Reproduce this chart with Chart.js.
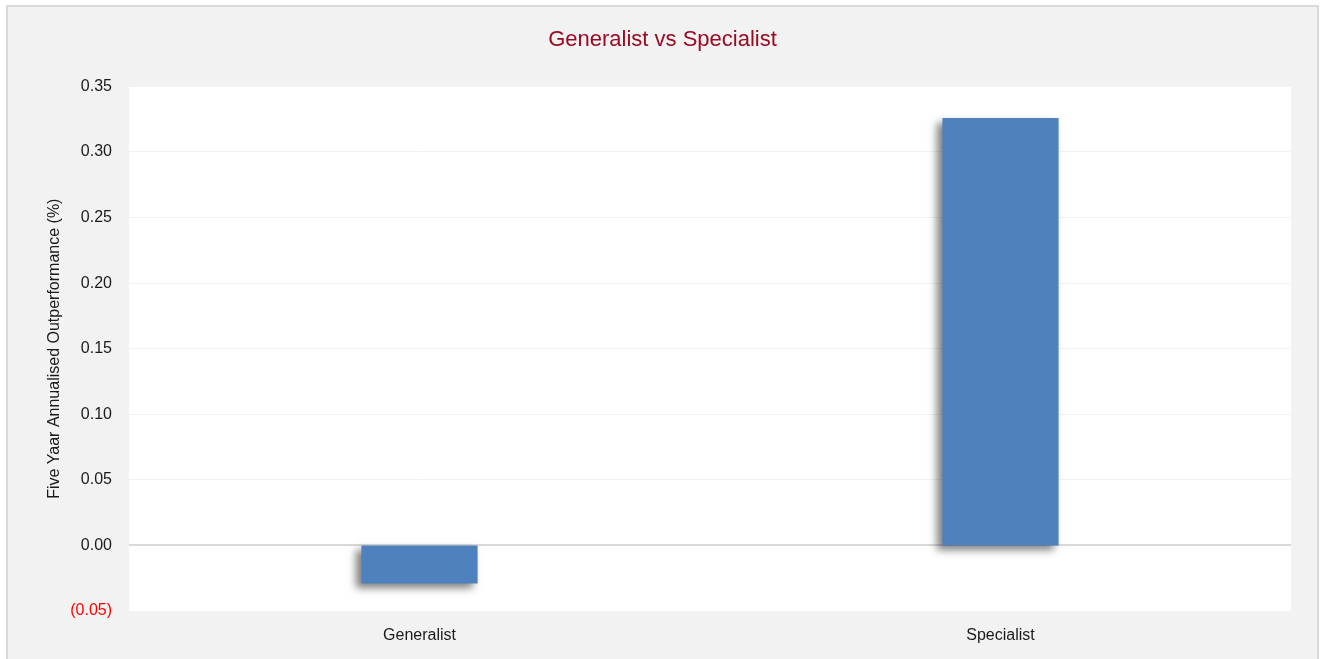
<!DOCTYPE html>
<html>
<head>
<meta charset="utf-8">
<script src="https://cdn.jsdelivr.net/npm/chart.js@4"></script>
<style>
  html, body { margin: 0; padding: 0; background: #fff; }
  #wrap { width: 1325px; height: 659px; }
</style>
</head>
<body>
<div id="wrap"><canvas id="chartjs" width="1325" height="659"></canvas></div>
<script>
const categories = ["Generalist", "Specialist"],
    outperformance = [-0.029, 0.326];

const yMin = -0.05,
    yMax = 0.35,
    yStep = 0.05;

const ctx = document.getElementById("chartjs").getContext("2d");

// grey panel + white plot area behind everything
const panel = {
    id: 'panel',
    beforeDraw(chart) {
        const c = chart.ctx, a = chart.chartArea;
        c.save();
        c.fillStyle = '#ffffff';
        c.fillRect(0, 0, chart.width, chart.height);
        c.fillStyle = '#f2f2f2';
        c.fillRect(8, 7, 1309, 660);
        c.strokeStyle = '#d9d9d9';
        c.lineWidth = 2;
        c.strokeRect(7, 6, 1311, 670);
        c.fillStyle = '#ffffff';
        c.fillRect(a.left, a.top, a.right - a.left, a.bottom - a.top);
        c.restore();
    }
};

// soft drop shadow under the bars, down and to the left
const barShadow = {
    id: 'barShadow',
    beforeDatasetDraw(chart) {
        const c = chart.ctx;
        c.save();
        c.shadowColor = 'rgba(0, 0, 0, 0.5)';
        c.shadowBlur = 8;
        c.shadowOffsetX = -5;
        c.shadowOffsetY = 5;
    },
    afterDatasetDraw(chart) {
        chart.ctx.restore();
    }
};

const chart = new Chart(ctx, {
    type: 'bar',
    data: {
        labels: categories,
        datasets: [
            {
                label: "Outperformance",
                data: outperformance,
                backgroundColor: "#4f81bd",
                borderWidth: 0,
                categoryPercentage: 1,
                barPercentage: 0.2,
            },
        ]
    },
    plugins: [panel, barShadow],
    options: {
        responsive: false,
        animation: false,
        layout: {
            padding: { left: 34, right: 34, top: 0, bottom: 0 }
        },
        font: { family: "'Liberation Sans', Arial, sans-serif" },
        plugins: {
            legend: { display: false },
            tooltip: { enabled: false },
            title: {
                display: true,
                text: "Generalist vs Specialist",
                color: "#9b0a23",
                font: { family: "'Liberation Sans', Arial, sans-serif", size: 22, weight: 'normal', lineHeight: 1.2 },
                padding: { top: 27, bottom: 33 }
            }
        },
        scales: {
            x: {
                grid: { display: false, drawTicks: false },
                border: { display: false },
                ticks: {
                    color: "#1a1a1a",
                    padding: 15,
                    font: { family: "'Liberation Sans', Arial, sans-serif", size: 16 }
                },
                afterFit: (scale) => { scale.height = 48; }
            },
            y: {
                min: yMin,
                max: yMax,
                border: { display: false },
                grid: {
                    drawTicks: false,
                    color: (c) => c.tick && Math.abs(c.tick.value) < 1e-9 ? '#d9d9d9' : '#f2f2f2',
                    lineWidth: (c) => c.tick && Math.abs(c.tick.value) < 1e-9 ? 2 : 1
                },
                ticks: {
                    stepSize: yStep,
                    padding: 17,
                    color: (c) => c.tick.value < -1e-9 ? '#ff0000' : '#1a1a1a',
                    font: { family: "'Liberation Sans', Arial, sans-serif", size: 16 },
                    callback: (value) => value < -1e-9 ? '(' + Math.abs(value).toFixed(2) + ')' : Math.abs(value).toFixed(2)
                },
                title: {
                    display: true,
                    text: "Five Yaar Annualised Outperformance (%)",
                    color: "#1a1a1a",
                    font: { family: "'Liberation Sans', Arial, sans-serif", size: 16 },
                    padding: { top: 11, bottom: 0 }
                },
                afterFit: (scale) => { scale.width = 95; }
            }
        }
    }
});
</script>
</body>
</html>
